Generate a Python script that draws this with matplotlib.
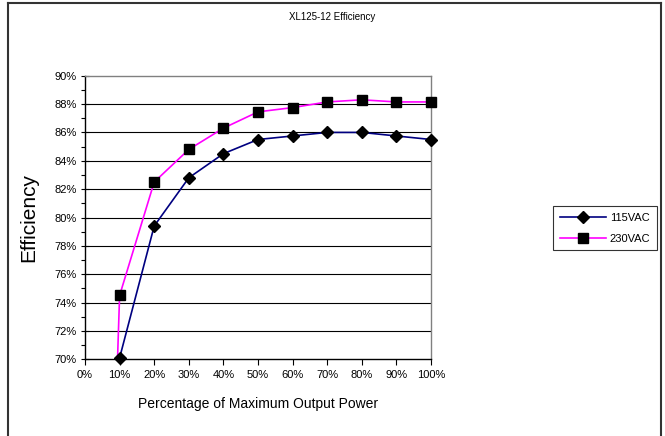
import numpy as np
import matplotlib.pyplot as plt
from matplotlib.lines import Line2D
from matplotlib.ticker import MultipleLocator, FuncFormatter

plt.rcParams['font.family'] = ['Liberation Sans', 'DejaVu Sans']

# data (first point at 0% sits far below the axis)
load_pct = [0, 10, 20, 30, 40, 50, 60, 70, 80, 90, 100]
eff_115 = [0, 70.1, 79.4, 82.8, 84.5, 85.5, 85.75, 86.0, 86.0, 85.75, 85.5]
eff_230 = [0, 74.5, 82.5, 84.8, 86.3, 87.45, 87.75, 88.15, 88.3, 88.15, 88.15]
series_names = ["115VAC", "230VAC"]
line_colors = ["#000080", "#FF00FF"]
markers = ["D", "s"]
msizes = [6, 7]

W, H = 665, 436
fig = plt.figure(figsize=(W / 100, H / 100), dpi=100)
ax = fig.add_axes([85 / W, 1 - 359.3 / H, (431 - 85) / W, (359.3 - 75.7) / H])

handles = []
for vals, name, c, m, ms in zip([eff_115, eff_230], series_names, line_colors, markers, msizes):
    ax.plot(load_pct, vals, color=c, lw=1.2, zorder=2)
    # markers only where they are inside the visible range, not clipped at the axis
    xs = [x for x, v in zip(load_pct, vals) if v >= 69.5]
    ys = [v for v in vals if v >= 69.5]
    ax.plot(xs, ys, ls="none", marker=m, ms=ms, mfc="black", mec="black",
            clip_on=False, zorder=3)
    handles.append(Line2D([], [], color=c, lw=1.2, marker=m, ms=ms,
                          mfc="black", mec="black", label=name))

ax.set_xlim(0, 100)
ax.set_ylim(70, 90)
ax.xaxis.set_major_locator(MultipleLocator(10))
ax.yaxis.set_major_locator(MultipleLocator(2))
ax.yaxis.set_minor_locator(MultipleLocator(1))
pct = FuncFormatter(lambda v, p: f"{v:.0f}%")
ax.xaxis.set_major_formatter(pct)
ax.yaxis.set_major_formatter(pct)

for y in range(72, 90, 2):
    ax.axhline(y, color="black", lw=0.8, zorder=0.5)

ax.tick_params(axis="y", which="major", direction="inout", length=6, width=0.8,
               labelsize=8, pad=3)
ax.tick_params(axis="y", which="minor", direction="out", length=3, width=0.8)
ax.tick_params(axis="x", which="major", direction="out", length=4, width=0.8,
               labelsize=8, pad=4)

for s in ["left", "bottom"]:
    ax.spines[s].set_color("black")
    ax.spines[s].set_linewidth(1.0)
for s in ["top", "right"]:
    ax.spines[s].set_color("#808080")
    ax.spines[s].set_linewidth(1.0)

ax.set_xlabel("Percentage of Maximum Output Power", fontsize=10, labelpad=12)
fig.text(29 / W, 1 - 218 / H, "Efficiency", fontsize=15, rotation=90,
         ha="center", va="center")
fig.text(0.5, 1 - 17 / H, "XL125-12 Efficiency", fontsize=7,
         ha="center", va="center")

leg = fig.legend(handles=handles, loc="upper left",
                 bbox_to_anchor=(553 / W, 1 - 206 / H),
                 fontsize=8, frameon=True, fancybox=False, handlelength=4.2,
                 borderpad=0.6, labelspacing=1.0, handletextpad=0.3,
                 borderaxespad=0)
leg.get_frame().set_edgecolor("black")
leg.get_frame().set_linewidth(0.8)

# outer chart border (bottom runs off the image)
border = "#333333"
fig.add_artist(Line2D([8 / W, 8 / W], [0, 1 - 3 / H], color=border, lw=1.5))
fig.add_artist(Line2D([8 / W, 660.5 / W], [1 - 3 / H, 1 - 3 / H], color=border, lw=1.5))
fig.add_artist(Line2D([660.5 / W, 660.5 / W], [0, 1 - 3 / H], color=border, lw=1.5))

fig.savefig("out.png", dpi=100)
